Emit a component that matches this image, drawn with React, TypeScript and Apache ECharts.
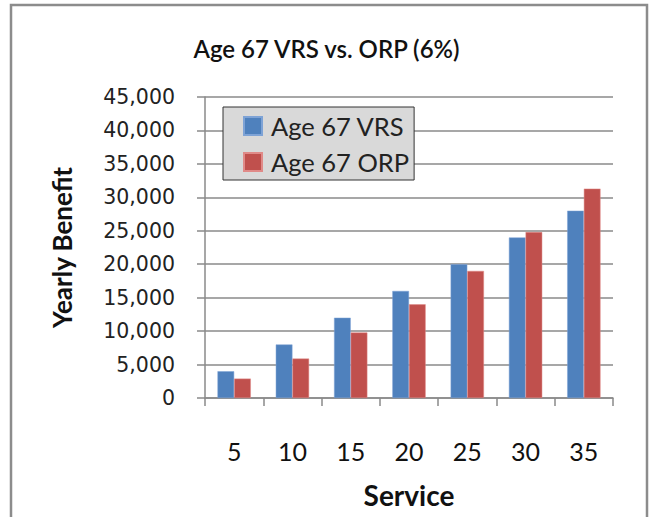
import React, { useEffect, useRef } from "react";
import * as echarts from "echarts";

const categories = ["5", "10", "15", "20", "25", "30", "35"];
const vrsValues = [4000, 8000, 12000, 16000, 20000, 24000, 28000];
const orpValues = [2900, 5900, 9800, 14000, 19000, 24800, 31300];
const seriesNames = ["Age 67 VRS", "Age 67 ORP"];
const titleText = "Age 67 VRS vs. ORP (6%)";
const yAxisTitle = "Yearly Benefit";
const xAxisTitle = "Service";

const CAL = "Lato, 'Open Sans', sans-serif";

export default function App() {
  const ref = useRef<HTMLDivElement>(null);
  useEffect(() => {
    if (!ref.current) return;
    const chart = echarts.init(ref.current, null, { renderer: "svg" });
    chart.setOption({
      animation: false,
      backgroundColor: "#ffffff",
      title: {
        text: titleText,
        left: "center",
        top: 31,
        textStyle: { fontFamily: CAL, fontSize: 24, fontWeight: 600, color: "#111" },
      },
      graphic: [
        {
          type: "rect",
          shape: { x: 11, y: 5, width: 636, height: 530 },
          style: { fill: "none", stroke: "#8c8c8c", lineWidth: 2.5 },
          silent: true,
          z: 100,
        },
      ],
      legend: {
        orient: "vertical",
        left: 223,
        top: 107,
        data: seriesNames,
        backgroundColor: "#d9d9d9",
        borderColor: "#333",
        borderWidth: 1,
        padding: [6, 5, 5, 20],
        itemWidth: 18,
        itemHeight: 18,
        itemGap: 10,
        icon: "rect",
        textStyle: { fontFamily: CAL, fontSize: 25.5, lineHeight: 26, color: "#222", padding: [0, 0, 0, 4] },
      },
      grid: { left: 205, top: 97, width: 408, height: 301, containLabel: false },
      xAxis: {
        type: "category",
        data: categories,
        name: xAxisTitle,
        nameLocation: "middle",
        nameGap: 83,
        nameTextStyle: { fontFamily: CAL, fontSize: 28, fontWeight: "bold", color: "#111" },
        axisLine: { lineStyle: { color: "#8a8a8a", width: 1.5 } },
        axisTick: { show: true, alignWithLabel: false, length: 8, lineStyle: { color: "#8a8a8a", width: 1.5 } },
        axisLabel: { margin: 40, fontFamily: CAL, fontSize: 25, color: "#111" },
      },
      yAxis: {
        type: "value",
        min: 0,
        max: 45000,
        interval: 5000,
        name: yAxisTitle,
        nameLocation: "middle",
        nameGap: 130,
        nameTextStyle: { fontFamily: CAL, fontSize: 26, fontWeight: "bold", color: "#111" },
        axisLine: { show: true, lineStyle: { color: "#8a8a8a", width: 1.5 } },
        axisTick: { show: true, length: 8, lineStyle: { color: "#8a8a8a", width: 1.5 } },
        splitLine: { show: true, lineStyle: { color: "#8a8a8a", width: 1.5 } },
        axisLabel: {
          margin: 30,
          fontFamily: "'DejaVu Sans', sans-serif",
          fontSize: 20.5,
          color: "#222",
          formatter: (v: number) => v.toLocaleString("en-US"),
        },
      },
      series: [
        {
          name: seriesNames[0],
          type: "bar",
          data: vrsValues,
          barGap: "0%",
          barCategoryGap: "42.86%",
          itemStyle: { color: "#4F81BD", borderColor: "#7ea3d6", borderWidth: 0.5 },
        },
        {
          name: seriesNames[1],
          type: "bar",
          data: orpValues,
          itemStyle: { color: "#C0504D", borderColor: "#e08a88", borderWidth: 0.5 },
        },
      ],
    });
    return () => chart.dispose();
  }, []);
  return <div ref={ref} style={{ width: 653, height: 517, position: "absolute", left: 0, top: 0 }} />;
}
